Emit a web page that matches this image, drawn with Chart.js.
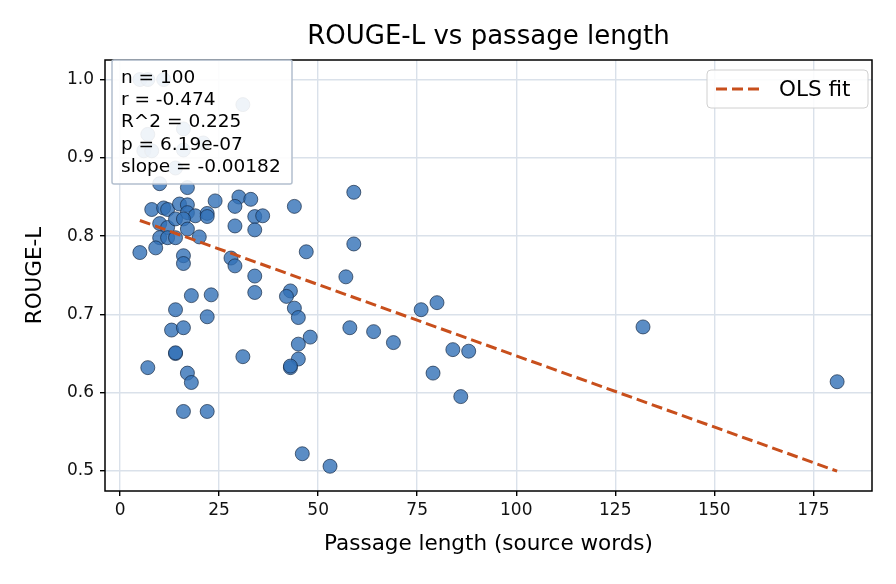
<!DOCTYPE html>
<html>
<head>
<meta charset="utf-8">
<script src="https://cdn.jsdelivr.net/npm/chart.js@4/dist/chart.umd.min.js"></script>
<style>
  html, body { margin: 0; padding: 0; background: #ffffff; }
  #wrap { width: 896px; height: 584px; position: relative; }
</style>
</head>
<body>
<div id="wrap"><canvas id="c" width="896" height="584"></canvas></div>
<script>
// ---- data ----
const passageLength = [5,7,11,31,16,7,6,8,16,14,21,
  10,17,8,11,12,15,17,17,19,22,22,24,30,33,29,34,36,29,34,44,59,59,47,
  10,12,14,16,17,20,10,12,14,5,9,16,16,28,29,34,57,34,18,23,43,42,44,45,
  14,22,13,16,48,45,45,58,64,69,76,80,84,88,79,86,14,14,7,17,18,16,22,31,
  43,43,46,53,132,181];
const rougeL = [1.0,1.0,1.0,0.968,0.937,0.930,0.909,0.909,0.910,0.887,0.919,
  0.867,0.862,0.834,0.836,0.834,0.841,0.840,0.830,0.826,0.829,0.825,0.845,0.850,0.847,0.838,0.825,0.826,0.813,0.808,0.838,0.856,0.790,0.780,
  0.816,0.811,0.822,0.822,0.809,0.799,0.798,0.798,0.798,0.779,0.785,0.775,0.765,0.772,0.762,0.749,0.748,0.728,0.724,0.725,0.730,0.723,0.708,0.696,
  0.706,0.697,0.680,0.683,0.671,0.662,0.643,0.683,0.678,0.664,0.706,0.715,0.655,0.653,0.625,0.595,0.650,0.651,0.632,0.625,0.613,0.576,0.576,0.646,
  0.632,0.634,0.522,0.506,0.684,0.614];
const olsSlope = -0.00182;
const olsIntercept = 0.8291;
const statLines = ["n = 100", "r = -0.474", "R^2 = 0.225", "p = 6.19e-07", "slope = -0.00182"];
const xTickValues = [0, 25, 50, 75, 100, 125, 150, 175];
const yTickValues = [0.5, 0.6, 0.7, 0.8, 0.9, 1.0];
const titleText = "ROUGE-L vs passage length";
const xLabel = "Passage length (source words)";
const yLabel = "ROUGE-L";
const legendLabel = "OLS fit";

// ---- build datasets ----
const scatterPts = passageLength.map((x, i) => ({x: x, y: rougeL[i]}));
const xMinData = Math.min(...passageLength), xMaxData = Math.max(...passageLength);
const fitPts = [xMinData, xMaxData].map(x => ({x: x, y: olsIntercept + olsSlope * x}));

const FONT = "'DejaVu Sans', sans-serif";
const lineColor = '#c84f1c';
const DASH = [11, 5];

const overlayPlugin = {
  id: 'overlay',
  afterDatasetsDraw(chart) {
    const ctx = chart.ctx, a = chart.chartArea;
    ctx.save();
    // spines
    ctx.strokeStyle = '#000';
    ctx.lineWidth = 1.5;
    ctx.strokeRect(a.left, a.top, a.right - a.left, a.bottom - a.top);
    // stats box
    const bx = a.left + 7, by = a.top, bw = 180, bh = 124;
    ctx.beginPath();
    if (ctx.roundRect) ctx.roundRect(bx, by, bw, bh, 2); else ctx.rect(bx, by, bw, bh);
    ctx.fillStyle = 'rgba(255,255,255,0.9)';
    ctx.fill();
    ctx.strokeStyle = '#b3bfce';
    ctx.lineWidth = 1.5;
    ctx.stroke();
    ctx.fillStyle = '#000';
    ctx.font = "18.5px " + FONT;
    ctx.textBaseline = 'middle';
    ctx.textAlign = 'left';
    statLines.forEach((t, i) => ctx.fillText(t, bx + 9, by + 18 + i * 22.3));
    // legend
    const lw = 161, lh = 38, lx = a.right - 4 - lw, ly = a.top + 10;
    ctx.beginPath();
    if (ctx.roundRect) ctx.roundRect(lx, ly, lw, lh, 4); else ctx.rect(lx, ly, lw, lh);
    ctx.fillStyle = 'rgba(255,255,255,0.85)';
    ctx.fill();
    ctx.strokeStyle = '#d0d0d0';
    ctx.lineWidth = 1;
    ctx.stroke();
    ctx.strokeStyle = lineColor;
    ctx.lineWidth = 3;
    ctx.setLineDash(DASH);
    ctx.beginPath();
    ctx.moveTo(lx + 9, ly + lh / 2);
    ctx.lineTo(lx + 53, ly + lh / 2);
    ctx.stroke();
    ctx.setLineDash([]);
    ctx.fillStyle = '#000';
    ctx.font = "21.5px " + FONT;
    ctx.fillText(legendLabel, lx + 72, ly + lh / 2 + 1);
    // title
    ctx.font = "26px " + FONT;
    ctx.textAlign = 'center';
    ctx.fillText(titleText, (a.left + a.right) / 2, 37);
    ctx.restore();
  }
};

new Chart(document.getElementById('c'), {
  type: 'scatter',
  data: {
    datasets: [
      {
        type: 'line',
        label: legendLabel,
        data: fitPts,
        showLine: true,
        borderColor: lineColor,
        borderWidth: 3,
        borderDash: DASH,
        pointRadius: 0,
        fill: false,
        order: 0
      },
      {
        label: 'points',
        data: scatterPts,
        pointRadius: 7,
        pointHoverRadius: 7,
        backgroundColor: 'rgba(50,112,182,0.8)',
        borderColor: 'rgba(20,38,65,0.85)',
        borderWidth: 0.8,
        order: 1
      }
    ]
  },
  options: {
    responsive: false,
    animation: false,
    devicePixelRatio: 1,
    layout: { padding: { top: 60, right: 24, left: 0, bottom: 0 } },
    plugins: { legend: { display: false }, tooltip: { enabled: false }, title: { display: false } },
    scales: {
      x: {
        type: 'linear',
        min: -3.8, max: 189.8,
        afterFit(s) { s.height = 93; },
        afterBuildTicks(s) { s.ticks = xTickValues.map(v => ({value: v})); },
        grid: { color: '#dae1ea', lineWidth: 1.4, tickColor: '#000', tickLength: 5, drawTicks: true },
        border: { display: false },
        ticks: { color: '#111', font: { family: FONT, size: 17 }, padding: 4, maxRotation: 0,
                 callback: v => String(v) },
        title: { display: true, text: xLabel, color: '#000', font: { family: FONT, size: 21.5 },
                 padding: { top: 0, bottom: 27 } }
      },
      y: {
        type: 'linear',
        min: 0.4744, max: 1.025,
        afterFit(s) { s.width = 105; },
        afterBuildTicks(s) { s.ticks = yTickValues.map(v => ({value: v})); },
        grid: { color: '#dae1ea', lineWidth: 1.4, tickColor: '#000', tickLength: 5, drawTicks: true },
        border: { display: false },
        ticks: { color: '#111', font: { family: FONT, size: 17 }, padding: 6,
                 callback: v => Number(v).toFixed(1) },
        title: { display: true, text: yLabel, color: '#000', font: { family: FONT, size: 21.5 },
                 padding: { top: 23, bottom: 0 } }
      }
    }
  },
  plugins: [overlayPlugin]
});
</script>
</body>
</html>
